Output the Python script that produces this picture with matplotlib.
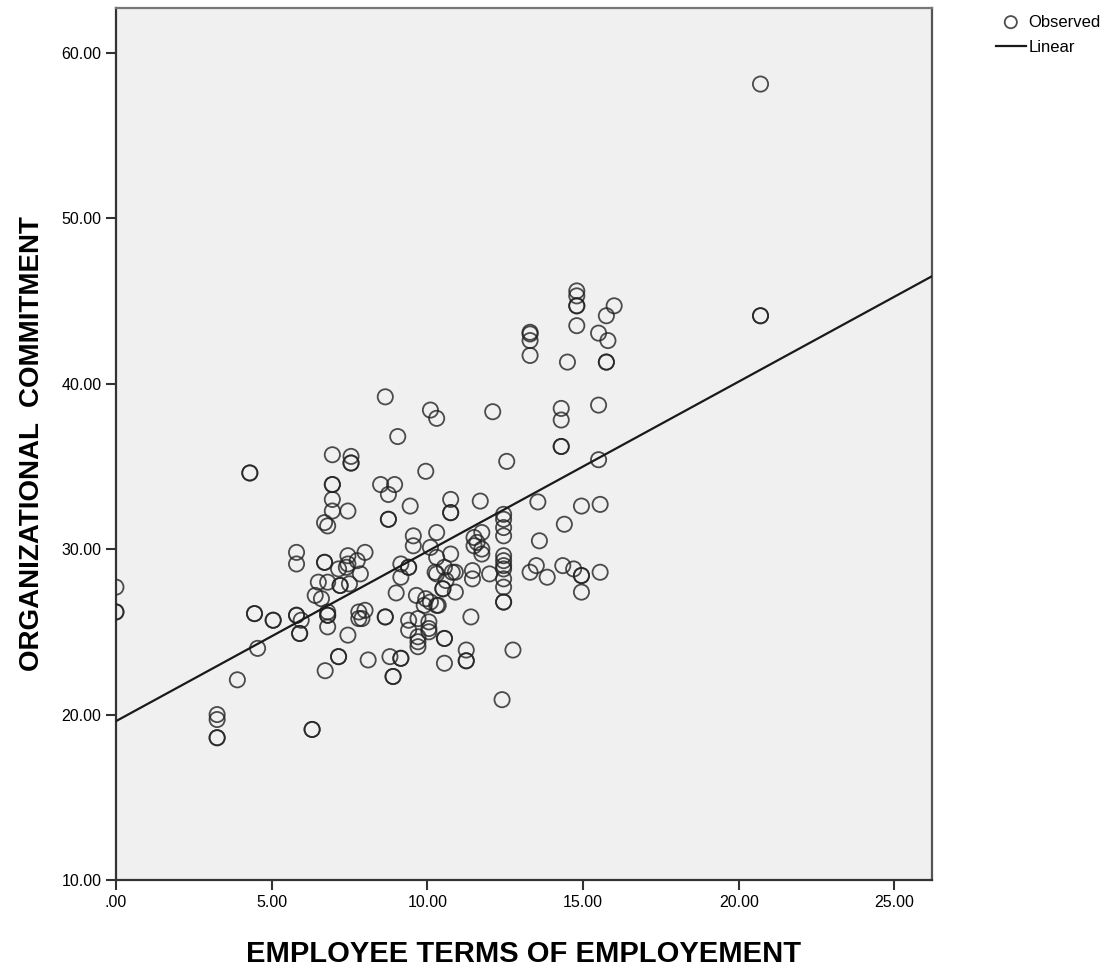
import numpy as np
import matplotlib
matplotlib.use("Agg")
import matplotlib.pyplot as plt
from matplotlib.ticker import FuncFormatter

plt.rcParams['font.family'] = ['Liberation Sans', 'DejaVu Sans']

# employee terms of employment (x) and organizational commitment (y)
terms = [
    0.0, 0.0, 0.0,
    3.25, 3.25, 3.25, 3.25, 3.9, 4.3, 4.3, 4.45, 4.45, 4.55, 5.05, 5.05,
    5.8, 5.8, 5.8, 5.8, 5.95, 5.9, 5.9, 6.3, 6.3,
    6.5, 6.8, 6.4, 6.6, 6.7, 6.7, 6.8, 6.8, 6.8, 6.8, 6.72,
    7.15, 7.15, 7.45, 7.2, 7.2, 7.15, 7.45, 7.45, 7.4, 7.5, 7.75, 7.85, 8.0,
    7.8, 8.0, 7.9, 7.8, 8.65, 8.65, 8.1, 8.8, 9.15, 9.15, 8.9, 8.9,
    6.95, 7.55, 7.55, 7.55, 6.95, 6.95, 6.95, 6.95, 7.45, 6.7, 6.8,
    8.5, 8.95, 8.75, 8.75, 8.75, 9.45, 8.65, 9.05, 9.95, 10.1, 10.3, 12.1, 12.55,
    10.75, 10.75, 10.75, 11.7, 9.55, 9.55, 10.3, 10.1,
    11.75, 11.5, 11.6, 11.75, 11.75, 11.5,
    12.45, 12.45, 12.45, 12.45, 12.45, 12.45, 12.45, 12.45, 12.45, 12.45, 12.45, 12.45,
    13.55, 14.4, 14.95, 15.55, 13.6, 13.3, 13.5, 13.85, 14.35, 14.7, 14.95, 14.95,
    15.55, 14.95, 14.3, 14.3, 15.5, 14.3, 14.3, 15.5, 14.5, 15.75, 15.75,
    13.3, 13.3, 13.3, 13.3, 14.8, 14.8, 14.8, 14.8, 16.0, 15.75, 14.8, 15.5, 15.8,
    20.7, 20.7, 20.7,
    9.15, 9.4, 9.4, 9.15, 9.0, 10.3, 10.55, 10.25, 10.8, 10.75,
    10.9, 10.9, 10.5, 10.5, 10.6, 10.3, 11.45, 11.45, 12.0, 11.4, 10.35,
    9.65, 9.95, 10.1, 10.3, 9.9, 9.4, 9.7, 10.05,
    9.4, 9.7, 9.7, 9.7, 10.05, 10.05, 10.55, 10.55, 10.55,
    11.25, 11.25, 11.25, 12.75, 12.4,
]
commitment = [
    27.7, 26.2, 26.2,
    20.0, 19.7, 18.6, 18.6, 22.1, 34.6, 34.6, 26.1, 26.1, 24.0, 25.7, 25.7,
    29.8, 29.1, 26.0, 26.0, 25.7, 24.9, 24.9, 19.1, 19.1,
    28.0, 28.0, 27.2, 27.0, 29.2, 29.2, 26.2, 26.0, 26.0, 25.3, 22.65,
    23.5, 23.5, 24.8, 27.8, 27.8, 28.8, 29.6, 29.1, 28.9, 27.9, 29.3, 28.5, 29.8,
    26.2, 26.3, 25.8, 25.8, 25.9, 25.9, 23.3, 23.5, 23.4, 23.4, 22.3, 22.3,
    35.7, 35.6, 35.2, 35.2, 33.9, 33.9, 33.0, 32.3, 32.3, 31.6, 31.4,
    33.9, 33.9, 33.3, 31.8, 31.8, 32.6, 39.2, 36.8, 34.7, 38.4, 37.9, 38.3, 35.3,
    33.0, 32.2, 32.2, 32.9, 30.8, 30.2, 31.0, 30.1,
    31.0, 30.7, 30.4, 30.0, 29.7, 30.2,
    32.1, 31.8, 31.3, 30.8, 29.6, 29.3, 29.0, 28.8, 28.2, 27.7, 26.8, 26.8,
    32.85, 31.5, 32.6, 32.7, 30.5, 28.6, 29.0, 28.3, 29.0, 28.8, 28.4, 28.4,
    28.6, 27.4, 36.2, 36.2, 35.4, 38.5, 37.8, 38.7, 41.3, 41.3, 41.3,
    43.1, 43.0, 42.6, 41.7, 45.6, 45.3, 44.7, 44.7, 44.7, 44.1, 43.5, 43.05, 42.6,
    58.1, 44.1, 44.1,
    29.1, 28.9, 28.9, 28.3, 27.35, 29.5, 28.9, 28.6, 28.6, 29.7,
    28.6, 27.4, 27.6, 27.6, 28.1, 28.5, 28.7, 28.2, 28.5, 25.9, 26.6,
    27.2, 27.0, 26.8, 26.6, 26.6, 25.7, 25.8, 25.6,
    25.1, 24.7, 24.4, 24.1, 25.2, 25.0, 24.6, 24.6, 23.1,
    23.9, 23.25, 23.25, 23.9, 20.9,
]

# fitted linear model shown on the chart
intercept = 19.6
slope = 1.026

x_ticks = [0, 5, 10, 15, 20, 25]
y_ticks = [10, 20, 30, 40, 50, 60]

fig = plt.figure(figsize=(11.04, 9.69), dpi=100)
ax = fig.add_axes([0.105, 0.0918, 0.739, 0.9])
ax.set_facecolor('#f0f0f0')

ax.scatter(terms, commitment, s=120, facecolors='none', edgecolors='#222222',
           linewidths=1.3, alpha=0.8, label='Observed', zorder=3)

xl = np.array([0, 26.2])
ax.plot(xl, intercept + slope * xl, color='#1a1a1a', lw=1.6, label='Linear', zorder=4)

ax.set_xlim(0, 26.2)
ax.set_ylim(10, 62.7)
ax.set_xticks(x_ticks)
ax.set_yticks(y_ticks)

def fmt(v, pos):
    s = '%.2f' % v
    return s[1:] if s.startswith('0') else s

ax.xaxis.set_major_formatter(FuncFormatter(fmt))
ax.yaxis.set_major_formatter(FuncFormatter(fmt))
ax.tick_params(direction='out', length=7, width=1.5, color='#333333', labelsize=11.5)

for side in ['left', 'bottom', 'right', 'top']:
    ax.spines[side].set_linewidth(1.6)
    ax.spines[side].set_color('#333333')
ax.spines['top'].set_color('#777777')
ax.spines['right'].set_color('#555555')

ax.set_xlabel('EMPLOYEE TERMS OF EMPLOYEMENT', fontsize=21, fontweight='bold', labelpad=22)
ax.set_ylabel('ORGANIZATIONAL  COMMITMENT', fontsize=20, fontweight='bold', labelpad=12)

fig.legend(loc='upper left', bbox_to_anchor=(0.902, 0.985), frameon=False,
           handlelength=1.8, handletextpad=0.15, labelspacing=0.6,
           borderpad=0, borderaxespad=0,
           prop={'size': 12}, markerscale=0.8)

fig.savefig('out.png', dpi=100)
